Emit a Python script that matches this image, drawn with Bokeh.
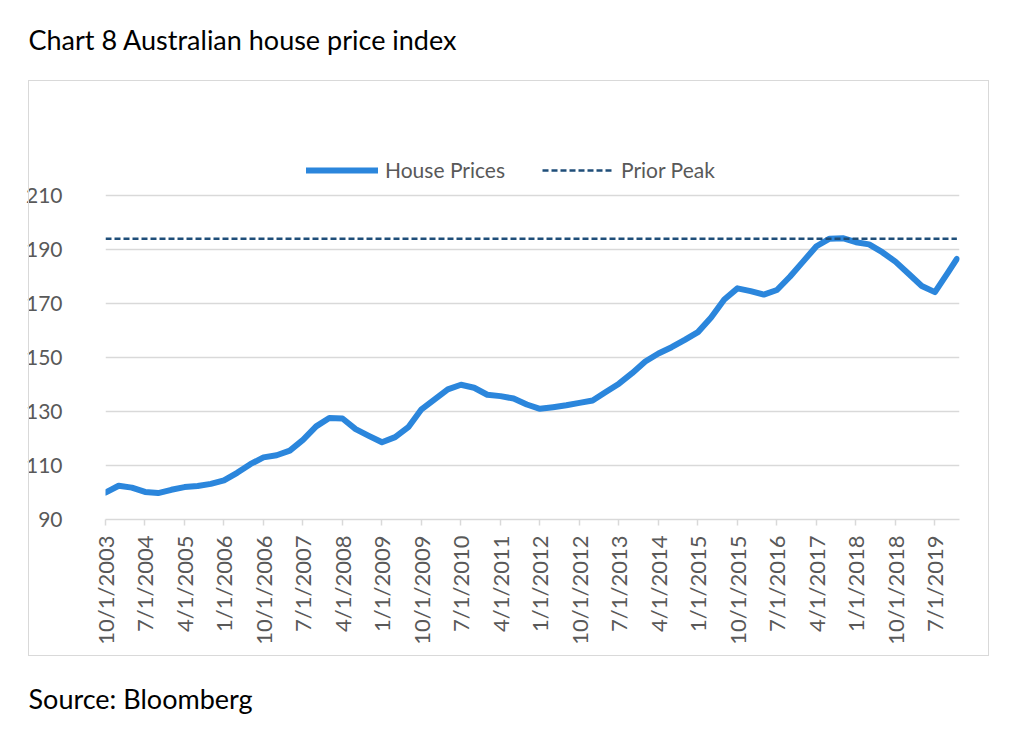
import math
from bokeh.plotting import figure
from bokeh.layouts import column
from bokeh.models import FixedTicker, Legend, LegendItem, Label, Range1d, InlineStyleSheet
from bokeh.embed import file_html
from bokeh.resources import INLINE

dates = [
    "10/1/2003", "1/1/2004", "4/1/2004", "7/1/2004", "10/1/2004", "1/1/2005", "4/1/2005", "7/1/2005",
    "10/1/2005", "1/1/2006", "4/1/2006", "7/1/2006", "10/1/2006", "1/1/2007", "4/1/2007", "7/1/2007",
    "10/1/2007", "1/1/2008", "4/1/2008", "7/1/2008", "10/1/2008", "1/1/2009", "4/1/2009", "7/1/2009",
    "10/1/2009", "1/1/2010", "4/1/2010", "7/1/2010", "10/1/2010", "1/1/2011", "4/1/2011", "7/1/2011",
    "10/1/2011", "1/1/2012", "4/1/2012", "7/1/2012", "10/1/2012", "1/1/2013", "4/1/2013", "7/1/2013",
    "10/1/2013", "1/1/2014", "4/1/2014", "7/1/2014", "10/1/2014", "1/1/2015", "4/1/2015", "7/1/2015",
    "10/1/2015", "1/1/2016", "4/1/2016", "7/1/2016", "10/1/2016", "1/1/2017", "4/1/2017", "7/1/2017",
    "10/1/2017", "1/1/2018", "4/1/2018", "7/1/2018", "10/1/2018", "1/1/2019", "4/1/2019", "7/1/2019",
    "10/1/2019", "12/1/2019",
]
house_prices = [
    100.0, 102.5, 101.8, 100.2, 99.8, 101.0, 102.0, 102.4,
    103.2, 104.5, 107.3, 110.5, 113.0, 113.8, 115.5, 119.5,
    124.5, 127.6, 127.4, 123.5, 121.0, 118.6, 120.5, 124.2,
    130.8, 134.5, 138.2, 139.9, 138.8, 136.2, 135.7, 134.8,
    132.6, 131.0, 131.6, 132.3, 133.2, 134.1, 137.2, 140.3,
    144.2, 148.5, 151.5, 153.8, 156.5, 159.4, 164.8, 171.5,
    175.6, 174.6, 173.3, 175.0, 180.0, 185.6, 191.2, 194.0,
    194.2, 192.7, 191.9, 189.0, 185.5, 181.0, 176.5, 174.2,
    181.5, 186.5,
]
prior_peak = 194.0
tick_labels = [
    "10/1/2003", "7/1/2004", "4/1/2005", "1/1/2006", "10/1/2006", "7/1/2007", "4/1/2008", "1/1/2009",
    "10/1/2009", "7/1/2010", "4/1/2011", "1/1/2012", "10/1/2012", "7/1/2013", "4/1/2014", "1/1/2015",
    "10/1/2015", "7/1/2016", "4/1/2017", "1/1/2018", "10/1/2018", "7/1/2019",
]
y_ticks = [90, 110, 130, 150, 170, 190, 210]
title_text = "Chart 8 Australian house price index"
source_text = "Source: Bloomberg"


def month_index(s):
    m, d, y = (int(v) for v in s.split("/"))
    return (y - 2003) * 12 + (m - 10)


xs = [month_index(s) for s in dates]
tick_x = [month_index(s) for s in tick_labels]

FONT = "Lato"
GRAY = "#595959"
GRID = "#d9d9d9"
W = 1008


def no_frame_align(f):
    try:
        f.frame_align = False
    except Exception:
        pass


def text_strip(height, text, y):
    f = figure(width=W, height=height, output_backend="svg", toolbar_location=None,
               x_range=Range1d(0, 1), y_range=Range1d(0, 1),
               x_axis_location=None, y_axis_location=None, min_border=0)
    no_frame_align(f)
    f.grid.visible = False
    f.outline_line_color = None
    f.add_layout(Label(x=28, y=y, x_units="screen", y_units="screen", text=text,
                       text_font=FONT, text_font_size="27px", text_color="black",
                       text_baseline="alphabetic"))
    return f


title_fig = text_strip(80, title_text, 41)
source_fig = text_strip(60, source_text, 18)

# main chart: frame spans x 105..959 and the 90..210 scale occupies y 195..519 (2.7 px per unit)
p = figure(width=W, height=576, output_backend="svg", toolbar_location=None,
           x_range=Range1d(0, 194.6), y_range=Range1d(90, 90 + 373 / 2.7),
           min_border_left=105, min_border_right=49, min_border_top=66, min_border_bottom=137)
no_frame_align(p)
p.outline_line_color = None
p.background_fill_color = "white"
p.border_fill_color = "white"

hp = p.line(xs, house_prices, line_color="#2B86DC", line_width=6, line_cap="round", line_join="round")
pk = p.line([xs[0], xs[-1]], [prior_peak, prior_peak], line_color="#1F4E79", line_width=2.5, line_dash="6 3")

p.xgrid.visible = False
p.ygrid.ticker = FixedTicker(ticks=y_ticks)
p.ygrid.grid_line_color = GRID
p.ygrid.grid_line_width = 1.3

p.yaxis.ticker = FixedTicker(ticks=y_ticks)
p.yaxis.axis_line_color = None
p.yaxis.major_tick_line_color = None
p.yaxis.minor_tick_line_color = None
p.yaxis.major_label_standoff = 37
p.yaxis.major_label_text_font = FONT
p.yaxis.major_label_text_font_size = "21px"
p.yaxis.major_label_text_color = GRAY

p.xaxis.ticker = FixedTicker(ticks=tick_x)
p.xaxis.major_label_overrides = {t: l for t, l in zip(tick_x, tick_labels)}
p.xaxis.major_label_orientation = math.pi / 2
p.xaxis.axis_line_color = GRID
p.xaxis.axis_line_width = 1.5
p.xaxis.major_tick_line_color = GRID
p.xaxis.major_tick_line_width = 1.5
p.xaxis.major_tick_out = 6
p.xaxis.major_tick_in = 0
p.xaxis.minor_tick_line_color = None
p.xaxis.major_label_standoff = 10
p.xaxis.major_label_text_font = FONT
p.xaxis.major_label_text_font_size = "22px"
p.xaxis.major_label_text_color = GRAY

legend = Legend(items=[LegendItem(label="House Prices", renderers=[hp]),
                       LegendItem(label="Prior Peak", renderers=[pk])],
                orientation="horizontal", location=(197, 333),
                glyph_width=72, glyph_height=20, label_standoff=7, spacing=37,
                padding=4, margin=0, border_line_alpha=0, background_fill_alpha=0,
                label_text_font=FONT, label_text_font_size="21px", label_text_color=GRAY)
p.add_layout(legend, "center")

box_css = InlineStyleSheet(css=""":host::after {
  content: ""; position: absolute; left: 28px; top: 80px; width: 959px; height: 574px;
  border: 1.5px solid #d9d9d9; pointer-events: none;
}""")
layout = column(title_fig, p, source_fig, spacing=0, stylesheets=[box_css])

open("out.html", "w").write(file_html(layout, INLINE))
